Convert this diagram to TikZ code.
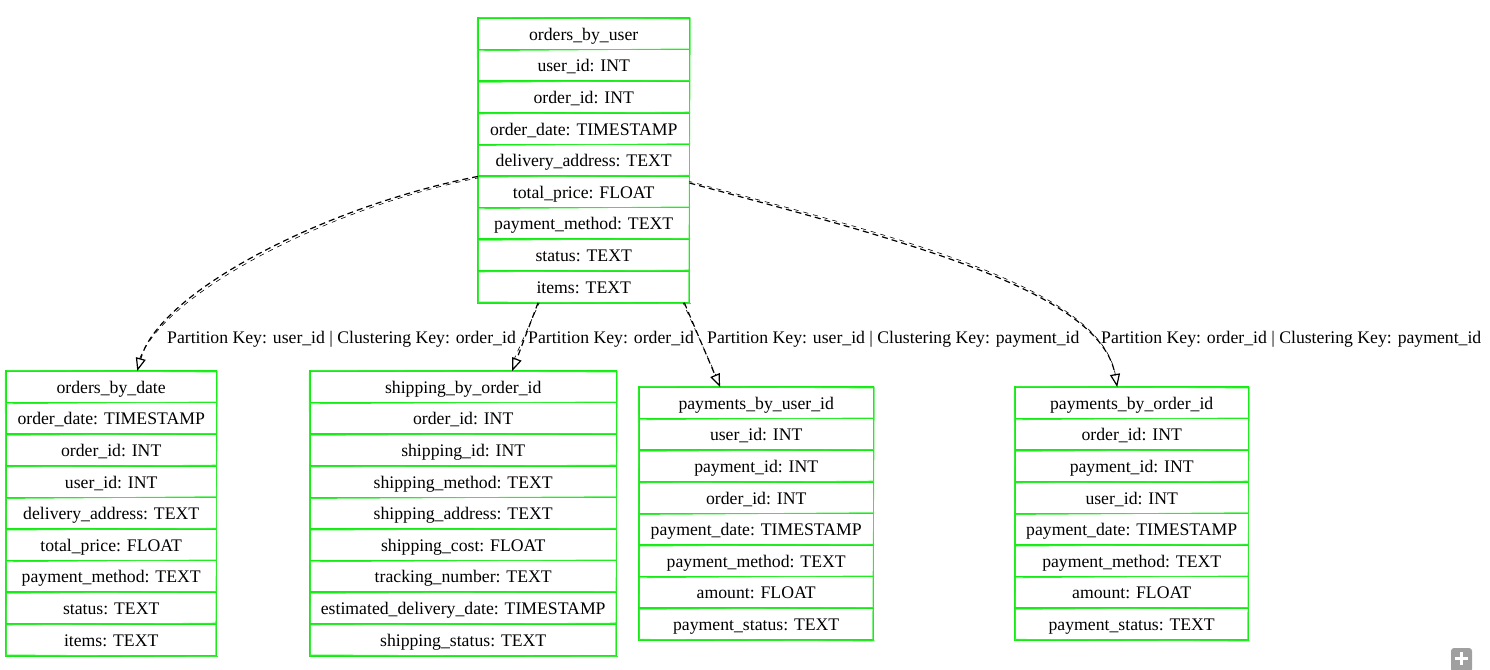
\documentclass[tikz,border=0pt]{standalone}
\usepackage{fontspec}
\setmainfont{Liberation Serif}
\usetikzlibrary{arrows.meta,calc}
\definecolor{tg}{RGB}{20,235,20}
\definecolor{plusgray}{RGB}{160,160,160}
\tikzset{
  row/.style={anchor=north west, minimum height=31.6pt, text height=15.5pt, text depth=3pt,
    inner sep=0pt, font=\fontsize{17.7}{20}\selectfont, text=black},
  gline/.style={draw=tg, line width=1.7pt},
  gthin/.style={draw=tg!85!white, line width=0.8pt},
  lbl/.style={font=\fontsize{17.7}{20}\selectfont, text height=15.5pt, text depth=3pt,
    inner sep=0pt, anchor=west, text=black},
  conn/.style={draw=black, line width=1.2pt, dash pattern=on 6pt off 4pt,
    -{Triangle[open,length=13pt,width=10pt,line width=1.2pt]}},
  conntwo/.style={draw=black, line width=0.6pt, dash pattern=on 5pt off 5pt, dash phase=2pt},
}
\newcommand{\dbtable}[6]{%
  \foreach \txt [count=\i from 0] in {#5} {
    \node[row, minimum width=#4pt] (#1-\i) at (#2, {#3+\i*31.6}) {\txt};
  }
  \draw[gline] (#1-0.north west) rectangle (#1-#6.south east);
  \draw[gthin] ($(#1-0.north west)+(1.2,-0.6)$) -- ($(#1-0.north east)+(-0.5,1.0)$)
               ($(#1-0.north west)+(-0.8,1.5)$) -- ($(#1-#6.south west)+(0.6,0.5)$)
               ($(#1-0.north east)+(0.9,-0.5)$) -- ($(#1-#6.south east)+(-0.7,0.3)$)
               ($(#1-#6.south west)+(-1,-0.9)$) -- ($(#1-#6.south east)+(1.5,0.8)$);
  \foreach \j in {1,...,#6} {
    \draw[gline] (#1-\j.north west) -- (#1-\j.north east);
    \draw[gthin] ($(#1-\j.north west)+(0.5,1.1)$) -- ($(#1-\j.north east)+(0.8,-0.7)$);
  }
}
\begin{document}
\begin{tikzpicture}[x=1pt,y=-1pt]
\useasboundingbox (0,0) rectangle (1490,669);

\dbtable{obu}{478}{18}{211}{orders\_by\_user, user\_id: INT, order\_id: INT, order\_date: TIMESTAMP, delivery\_address: TEXT, total\_price: FLOAT, payment\_method: TEXT, status: TEXT, items: TEXT}{8}
\dbtable{obd}{6}{371}{210}{orders\_by\_date, order\_date: TIMESTAMP, order\_id: INT, user\_id: INT, delivery\_address: TEXT, total\_price: FLOAT, payment\_method: TEXT, status: TEXT, items: TEXT}{8}
\dbtable{sbo}{310}{371}{306}{shipping\_by\_order\_id, order\_id: INT, shipping\_id: INT, shipping\_method: TEXT, shipping\_address: TEXT, shipping\_cost: FLOAT, tracking\_number: TEXT, estimated\_delivery\_date: TIMESTAMP, shipping\_status: TEXT}{8}
\dbtable{pbu}{639}{387}{234}{payments\_by\_user\_id, user\_id: INT, payment\_id: INT, order\_id: INT, payment\_date: TIMESTAMP, payment\_method: TEXT, amount: FLOAT, payment\_status: TEXT}{7}
\dbtable{pbo}{1015}{387}{233}{payments\_by\_order\_id, order\_id: INT, payment\_id: INT, user\_id: INT, payment\_date: TIMESTAMP, payment\_method: TEXT, amount: FLOAT, payment\_status: TEXT}{7}

% anchors for connectors
\coordinate (s1) at (obu-4.south west);
\coordinate (e1) at ($(obd-0.north west)!0.624!(obd-0.north east)$);
\coordinate (s2) at ($(obu-8.south west)!0.284!(obu-8.south east)$);
\coordinate (e2) at ($(sbo-0.north west)!0.66!(sbo-0.north east)$);
\coordinate (s3) at ($(obu-8.south west)!0.976!(obu-8.south east)$);
\coordinate (e3) at ($(pbu-0.north west)!0.346!(pbu-0.north east)$);
\coordinate (s4) at ($(obu-5.north east)+(0,7)$);
\coordinate (e4) at ($(pbo-0.north west)!0.438!(pbo-0.north east)$);

\draw[conntwo] ($(s1)+(0,1.5)$) .. controls (332,207) and (163,292) .. ($(e1)+(1.5,-10)$);
\draw[conn] (s1) .. controls (330,205) and (160,290) .. (e1);
\draw[conntwo] ($(s2)+(1.2,0)$) -- ($(e2)+(1.5,-11)$);
\draw[conn] (s2) -- (e2);
\draw[conntwo] ($(s3)+(-1.2,0)$) -- ($(e3)+(-4,-11)$);
\draw[conn] (s3) -- (e3);
\draw[conntwo] ($(s4)+(0,-1.5)$) .. controls (902,238) and (1103,288) .. ($(e4)+(-1.5,-10)$);
\draw[conn] (s4) .. controls (900,240) and (1100,290) .. (e4);

\node[lbl] (l1) at (167,337) {Partition Key: user\_id | Clustering Key: order\_id};
\node[lbl] (l2) at (528,337) {Partition Key: order\_id};
\node[lbl] (l3) at (707,337) {Partition Key: user\_id | Clustering Key: payment\_id};
\node[lbl] (l4) at (1101,337) {Partition Key: order\_id | Clustering Key: payment\_id};

% plus icon
\fill[plusgray, rounded corners=3pt] (1451,648) rectangle (1472,672);
\draw[white, line width=3.5pt] (1461.5,652) -- (1461.5,665) (1455,658.5) -- (1468,658.5);
\end{tikzpicture}
\end{document}
